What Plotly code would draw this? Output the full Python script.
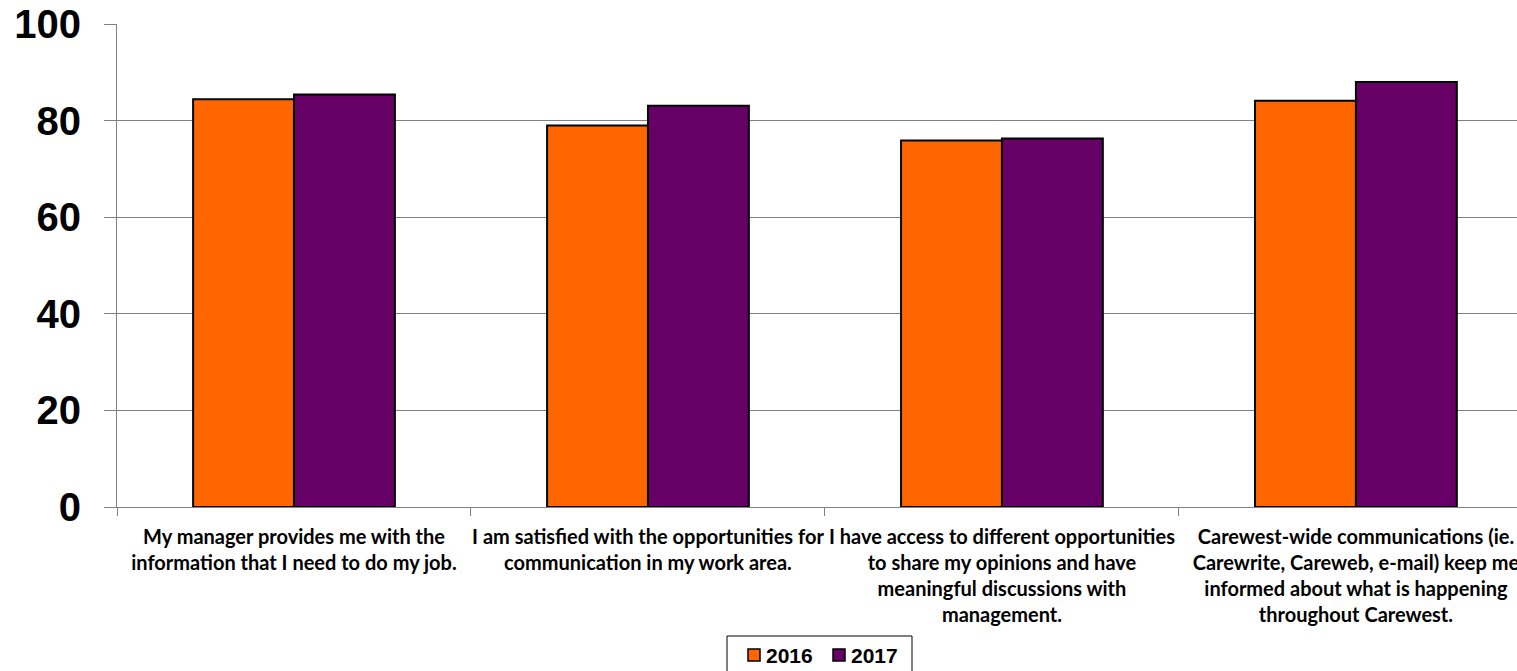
import plotly.graph_objects as go

categories = [
    "My manager provides me with the<br>information that I need to do my job.",
    "I am satisfied with the opportunities for<br>communication in my work area.",
    "I have access to different opportunities<br>to share my opinions and have<br>meaningful discussions with<br>management.",
    "Carewest-wide communications (ie.<br>Carewrite, Careweb, e-mail) keep me<br>informed about what is happening<br>throughout Carewest.",
]
series_names = ["2016", "2017"]
values_2016 = [84.4, 79.0, 75.9, 84.1]
values_2017 = [85.4, 83.1, 76.3, 88.0]
y_ticks = [0, 20, 40, 60, 80, 100]

colors = ["#FF6600", "#660066"]

W, H = 1517, 671
ML, MR, MT, MB = 117, 0, 24, 164
PW, PH = W - ML - MR, H - MT - MB


def px(x):
    return (x - ML) / PW


def py(y):
    return (H - MB - y) / PH


fig = go.Figure()
for name, vals, col in zip(series_names, [values_2016, values_2017], colors):
    fig.add_trace(go.Bar(name=name, x=categories, y=vals,
                         marker=dict(color=col, line=dict(color="#000000", width=2))))

# Legend box (drawn manually so it can sit clipped at the bottom edge like the reference)
shapes = [dict(type="rect", xref="paper", yref="paper",
               x0=px(727), x1=px(912), y0=py(636), y1=py(685),
               line=dict(color="#000000", width=1), fillcolor="white", layer="above")]
annotations = []
sq_left = [748, 833]
txt_left = [764, 849]
for name, col, sx, tx in zip(series_names, colors, sq_left, txt_left):
    shapes.append(dict(type="rect", xref="paper", yref="paper",
                       x0=px(sx), x1=px(sx + 12), y0=py(649), y1=py(661),
                       line=dict(color="#000000", width=1.5), fillcolor=col, layer="above"))
    annotations.append(dict(xref="paper", yref="paper", x=px(tx), y=py(655),
                            xanchor="left", yanchor="middle", showarrow=False, text=name,
                            font=dict(family="Arial, Liberation Sans", size=21,
                                      color="#000000", weight="bold")))

fig.update_layout(
    width=W, height=H,
    margin=dict(l=ML, r=MR, t=MT, b=MB),
    paper_bgcolor="white", plot_bgcolor="white",
    barmode="group", bargap=0.43, bargroupgap=0,
    showlegend=False,
    shapes=shapes, annotations=annotations,
    xaxis=dict(
        type="category", range=[-0.5, 3.455],
        tickson="boundaries", ticks="outside", ticklen=8, tickcolor="#808080",
        showline=True, linecolor="#808080", linewidth=1, showgrid=False,
        tickfont=dict(family="Lato", size=20, color="#000000", weight="bold"),
        tickangle=0, automargin=False, ticklabelstandoff=12,
    ),
    yaxis=dict(
        range=[0, 100], tickvals=y_ticks, ticks="outside", ticklen=12, tickcolor="#808080",
        showline=True, linecolor="#808080", linewidth=1,
        showgrid=True, gridcolor="#808080", gridwidth=1, zeroline=False,
        tickfont=dict(family="Arial, Liberation Sans", size=40, color="#000000", weight="bold"),
        ticklabelstandoff=15, automargin=False,
    ),
)

fig.write_html("out.html", config={"displayModeBar": False})
